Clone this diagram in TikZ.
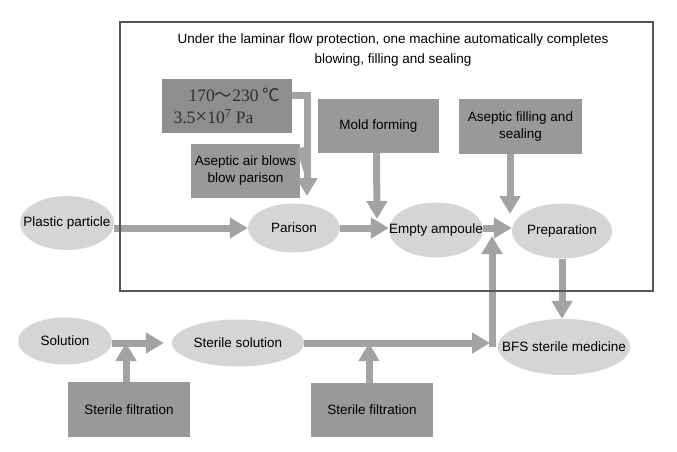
\documentclass[tikz,border=0pt]{standalone}
\usepackage{fontspec}
\setmainfont{Liberation Sans}
\newfontfamily\seriffont{Liberation Serif}
\newfontfamily\cjkfont{Noto Sans CJK SC}
\usetikzlibrary{arrows.meta,shapes.geometric}
\definecolor{ellgray}{HTML}{D5D5D5}
\definecolor{boxgray}{HTML}{999999}
\definecolor{darkbox}{HTML}{8E8E8E}
\definecolor{arrowgray}{HTML}{A3A3A3}
\definecolor{framegray}{HTML}{555555}
\newcommand{\zw}[1]{\makebox[0pt]{#1}}
\begin{document}
\begin{tikzpicture}[x=1pt,y=-1pt,
  every node/.style={font=\fontsize{13.5}{17}\selectfont, inner sep=0pt},
  ell/.style={ellipse, fill=ellgray, draw=none},
  gbox/.style={rectangle, fill=boxgray, draw=none, align=center},
  arr/.style={draw=arrowgray, line width=7pt, -{Triangle[width=20pt,length=18pt]}},
  stub/.style={draw=arrowgray, line width=7pt},
  frame/.style={draw=framegray, line width=1.3pt}]
\useasboundingbox[fill=white] (0,0) rectangle (677,452);

% ellipses
\node[ell, minimum width=94pt, minimum height=54pt] (pp) at (67,223) {\zw{Plastic particle}};
\node[ell, minimum width=92pt, minimum height=49pt] (par) at (294,228) {\zw{Parison}};
\node[ell, minimum width=94pt, minimum height=55pt] (ea) at (436,230) {\zw{Empty ampoule}};
\node[ell, minimum width=100pt, minimum height=55pt] (prep) at (562,231) {\zw{Preparation}};
\node[ell, minimum width=132pt, minimum height=56pt] (bfs) at (564,347) {\zw{BFS sterile medicine}};
\node[ell, minimum width=94pt, minimum height=47pt] (sol) at (65,341) {\zw{Solution}};
\node[ell, minimum width=132pt, minimum height=47pt] (ss) at (238,343) {\zw{Sterile solution}};

% boxes
\node[gbox, fill=darkbox, minimum width=130pt, minimum height=54pt, align=left,
      font=\seriffont\fontsize{17.5}{22}\selectfont, text=black!82] (b1) at (227,106)
  {\hspace*{15pt}170{\cjkfont ～}230 {\cjkfont ℃}\\3.5{\fontsize{21}{22}\selectfont ×}10\textsuperscript{7} Pa};
\node[gbox, minimum width=109pt, minimum height=54pt] (b2) at (245.5,171) {Aseptic air blows\\blow parison};
\node[gbox, minimum width=121pt, minimum height=54pt] (mf) at (378.5,126) {Mold forming};
\node[gbox, minimum width=123pt, minimum height=55pt] (af) at (520.5,126.5) {Aseptic filling and\\sealing};
\node[gbox, minimum width=122pt, minimum height=55pt] (sf1) at (129,409.5) {Sterile filtration};
\node[gbox, minimum width=122pt, minimum height=54pt] (sf2) at (372,410) {Sterile filtration};

% free ends
\coordinate (jt) at (307,95);
\coordinate (pt) at (307,196);
\coordinate (mt) at (377,219);
\coordinate (at) at (510,214);
\coordinate (jn) at (492,343);
\coordinate (et) at (492,236);
\coordinate (st) at (490,343);

% connectors
\draw[stub] ([yshift=11pt]b1.east) -- ([xshift=3.5pt]jt);
\draw[arr] (jt) -- (pt);
\draw[stub] ([yshift=23pt]b2.east) -- (b2.east -| jt);
\draw[arr] ([xshift=-2pt]mf.south) -- (mt);
\draw[arr] (at |- af.south) -- (at);
\draw[arr] (pp.east |- par) -- (par.west);
\draw[arr] (par.east) -- (ea.west |- par.east);
\draw[arr] (ea.east |- par.east) -- (prep.west |- par.east);
\draw[arr] (prep.south) -- (prep.south |- bfs.north);
\draw[arr, shorten >=8pt] (sol.east |- ss) -- (ss.west);
\draw[arr] (ss.east) -- (st);
\draw[arr] ([yshift=-3.5pt]jn) -- (et);
\draw[arr] ([xshift=-3pt]sf1.north) -- ([xshift=-3pt]sf1.north |- ss);
\draw[arr] ([xshift=-3pt]sf2.north) -- ([xshift=-3pt]sf2.north |- ss);

% frame and title
\draw[frame] (120,22) rectangle (653,291);
\node[align=center, font=\fontsize{13.5}{20}\selectfont] (title) at (393,50)
  {Under the laminar flow protection, one machine automatically completes\\blowing, filling and sealing};
\end{tikzpicture}
\end{document}
